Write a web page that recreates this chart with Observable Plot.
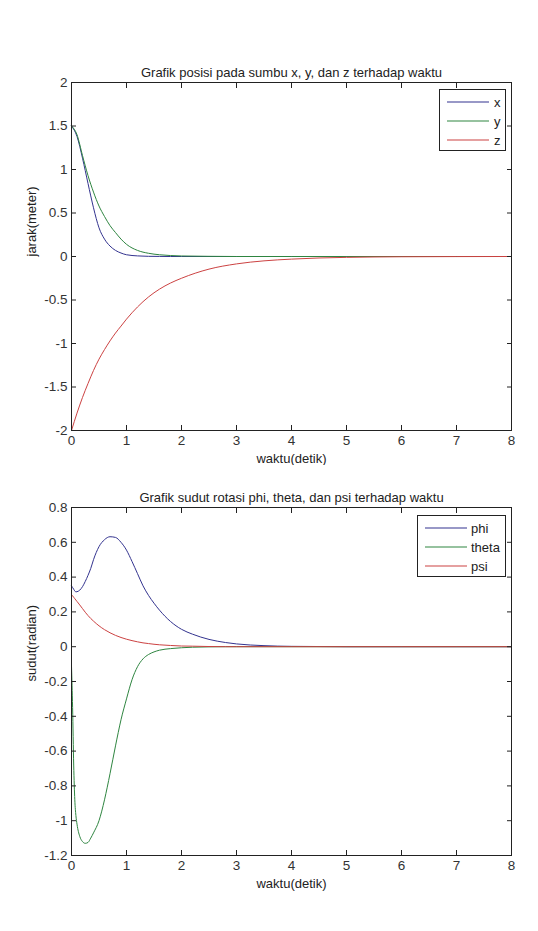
<!DOCTYPE html>
<html><head><meta charset="utf-8">
<script src="https://cdn.jsdelivr.net/npm/d3@7"></script>
<script src="https://cdn.jsdelivr.net/npm/@observablehq/plot@0.6"></script>
<style>
body{margin:0;background:#fff;}
#page{position:relative;width:538px;height:931px;overflow:hidden;background:#fff;font-family:"Liberation Sans",Arial,sans-serif;}
.panel{position:absolute;left:0;}
.legend{position:absolute;border:1px solid #222;background:#fff;font-size:13px;color:#222;box-sizing:border-box;}
.legend .row{position:absolute;left:0;display:flex;align-items:center;height:18px;}
.legend svg{display:block;}
</style></head><body><div id="page"></div>
<script>
// ---------- data: top panel (posisi) ----------
const timeTop = [0,0.1,0.2,0.3,0.4,0.5,0.6,0.7,0.8,0.9,1.0,1.2,1.4,1.6,1.8,2.0,2.5,3.0,3.5,4.0,4.5,5.0,6.0,7.0,8.0];
const posX = [1.5,1.38,1.13,0.84,0.56,0.33,0.20,0.12,0.07,0.04,0.02,0.007,0.002,0.001,0,0,0,0,0,0,0,0,0,0,0];
const posY = [1.5,1.40,1.16,0.93,0.74,0.58,0.46,0.355,0.275,0.20,0.14,0.07,0.037,0.02,0.011,0.006,0.002,0,0,0,0,0,0,0,0];
const posZ = [-2,-1.80,-1.62,-1.46,-1.31,-1.18,-1.07,-0.97,-0.88,-0.80,-0.72,-0.58,-0.465,-0.375,-0.305,-0.25,-0.145,-0.085,-0.05,-0.03,-0.017,-0.01,-0.003,-0.001,0];
const namesTop = ["x","y","z"];

// ---------- data: bottom panel (sudut) ----------
const timeBot = [0,0.02,0.04,0.06,0.08,0.1,0.15,0.2,0.25,0.3,0.35,0.4,0.5,0.6,0.7,0.8,0.9,1.0,1.1,1.2,1.3,1.4,1.5,1.6,1.8,2.0,2.2,2.5,2.8,3.0,3.5,4.0,5.0,6.0,7.0,8.0];
const angPhi = [0.35,0.34,0.33,0.32,0.315,0.316,0.325,0.345,0.375,0.41,0.45,0.50,0.575,0.615,0.632,0.628,0.60,0.555,0.49,0.42,0.35,0.295,0.25,0.21,0.145,0.10,0.072,0.042,0.024,0.016,0.006,0.002,0,0,0,0];
const angTheta = [-0.11,-0.35,-0.68,-0.88,-0.97,-1.02,-1.09,-1.12,-1.13,-1.125,-1.10,-1.07,-1.0,-0.88,-0.73,-0.57,-0.42,-0.30,-0.19,-0.115,-0.07,-0.045,-0.03,-0.02,-0.011,-0.006,-0.003,-0.001,0,0,0,0,0,0,0,0];
const angPsi = [0.30,0.292,0.284,0.276,0.268,0.26,0.24,0.219,0.198,0.179,0.162,0.147,0.12,0.098,0.08,0.065,0.053,0.043,0.035,0.028,0.022,0.018,0.014,0.011,0.007,0.004,0.003,0.001,0,0,0,0,0,0,0,0];
const namesBot = ["phi","theta","psi"];

// ---------- ticks & labels ----------
const xTicks = [0,1,2,3,4,5,6,7,8];
const yTicksTop = [-2,-1.5,-1,-0.5,0,0.5,1,1.5,2];
const yTicksBot = [-1.2,-1,-0.8,-0.6,-0.4,-0.2,0,0.2,0.4,0.6,0.8];
const titleTop = "Grafik posisi pada sumbu x, y, dan z terhadap waktu";
const titleBot = "Grafik sudut rotasi phi, theta, dan psi terhadap waktu";
const xLabel = "waktu(detik)";
const yLabelTop = "jarak(meter)";
const yLabelBot = "sudut(radian)";
const lineColors = ["#33338f", "#2e8540", "#cc4242"];

function toLong(time, series, names) {
  return names.flatMap((n, i) => time.map((t, j) => ({t, v: series[i][j], s: n})));
}

function makeChart({data, names, yDomain, yTicks, title, ylabel, height, marginTop, marginBottom}) {
  const fmt = d => String(d);
  const blank = () => "";
  return Plot.plot({
    width: 538, height, marginLeft: 71, marginRight: 27, marginTop, marginBottom,
    style: {fontFamily: "Liberation Sans, Arial, sans-serif", fontSize: "13.5px", color: "#222", background: "#fff", overflow: "visible"},
    x: {domain: [0, 8]},
    y: {domain: yDomain},
    color: {domain: names, range: lineColors},
    marks: [
      Plot.line(data, {x: "t", y: "v", stroke: "s", z: "s", strokeWidth: 1, curve: "monotone-x"}),
      Plot.frame({stroke: "#222", strokeWidth: 1}),
      Plot.axisX(xTicks, {anchor: "bottom", tickSize: -5, tickPadding: 10, tickFormat: fmt, label: null, stroke: "#222", fill: "#333"}),
      Plot.axisX(xTicks, {anchor: "top", tickSize: -5, tickFormat: blank, label: null, stroke: "#222"}),
      Plot.axisY(yTicks, {anchor: "left", tickSize: -5, tickPadding: 9, tickFormat: fmt, label: null, stroke: "#222", fill: "#333"}),
      Plot.axisY(yTicks, {anchor: "right", tickSize: -5, tickFormat: blank, label: null, stroke: "#222"}),
      Plot.text([title], {text: d => d, frameAnchor: "top", dy: -15, fontSize: 13, fill: "#222"}),
      Plot.text([xLabel], {text: d => d, frameAnchor: "bottom", dy: 32, fontSize: 13, fill: "#222"}),
      Plot.text([ylabel], {text: d => d, frameAnchor: "left", dx: -40, rotate: -90, fontSize: 13, fill: "#222"})
    ]
  });
}

function makeLegend(names, box) {
  const div = document.createElement("div");
  div.className = "legend";
  Object.assign(div.style, {left: box.left + "px", top: box.top + "px", width: box.width + "px", height: box.height + "px"});
  names.forEach((n, i) => {
    const row = document.createElement("div");
    row.className = "row";
    row.style.top = (box.rowTop + i * box.rowGap - 9) + "px";
    row.style.left = box.lineLeft + "px";
    const svg = document.createElementNS("http://www.w3.org/2000/svg", "svg");
    svg.setAttribute("width", box.lineLen);
    svg.setAttribute("height", 4);
    const ln = document.createElementNS("http://www.w3.org/2000/svg", "line");
    ln.setAttribute("x1", 0); ln.setAttribute("x2", box.lineLen);
    ln.setAttribute("y1", 2); ln.setAttribute("y2", 2);
    ln.setAttribute("stroke", lineColors[i]); ln.setAttribute("stroke-width", 1.2);
    svg.appendChild(ln);
    const sp = document.createElement("span");
    sp.textContent = n;
    sp.style.marginLeft = box.gap + "px";
    row.appendChild(svg); row.appendChild(sp);
    div.appendChild(row);
  });
  return div;
}

const page = document.getElementById("page");

const top1 = document.createElement("div");
top1.className = "panel"; top1.style.top = "0px";
top1.appendChild(makeChart({
  data: toLong(timeTop, [posX, posY, posZ], namesTop), names: namesTop,
  yDomain: [-2, 2], yTicks: yTicksTop, title: titleTop, ylabel: yLabelTop,
  height: 465, marginTop: 82, marginBottom: 35
}));
page.appendChild(top1);

const bot1 = document.createElement("div");
bot1.className = "panel"; bot1.style.top = "465px";
bot1.appendChild(makeChart({
  data: toLong(timeBot, [angPhi, angTheta, angPsi], namesBot), names: namesBot,
  yDomain: [-1.2, 0.8], yTicks: yTicksBot, title: titleBot, ylabel: yLabelBot,
  height: 466, marginTop: 42, marginBottom: 76
}));
page.appendChild(bot1);

page.appendChild(makeLegend(namesTop, {left: 439, top: 89, width: 67, height: 62, rowTop: 12, rowGap: 19, lineLeft: 7, lineLen: 42, gap: 5}));
page.appendChild(makeLegend(namesBot, {left: 417, top: 515, width: 89, height: 62, rowTop: 12, rowGap: 19, lineLeft: 7, lineLen: 42, gap: 4}));
</script>
</body></html>
